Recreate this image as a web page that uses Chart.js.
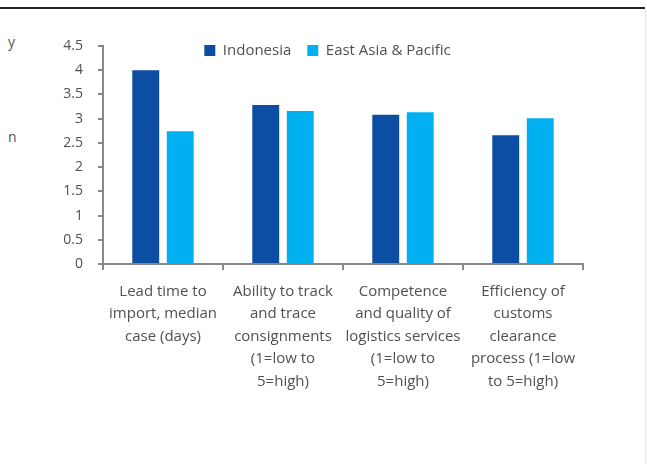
<!DOCTYPE html>
<html>
<head>
<meta charset="utf-8">
<script src="https://cdn.jsdelivr.net/npm/chart.js@4.4.0/dist/chart.umd.min.js"></script>
<style>
  html, body { margin: 0; padding: 0; background: #fff; }
  #wrap { position: relative; width: 647px; height: 464px; overflow: hidden; }
  #topRule { position: absolute; left: 0; top: 7px; width: 645px; height: 2px; background: #222; }
  #rightRule { position: absolute; left: 645px; top: 9px; width: 1px; height: 455px; background: #dfe8ee; }
  .frag { position: absolute; font-family: "Open Sans", sans-serif; font-size: 14px; color: #555; }
  canvas { position: absolute; left: 0; top: 0; }
</style>
</head>
<body>
<div id="wrap">
  <div id="topRule"></div>
  <div id="rightRule"></div>
  <span class="frag" style="left:8px; top:32px;">y</span>
  <span class="frag" style="left:8px; top:127px;">n</span>
  <canvas id="chart" width="647" height="464"></canvas>
</div>
<script>
// categories (multi-line labels as shown under the axis)
const categories = [
    ['Lead time to', 'import, median', 'case (days)'],
    ['Ability to track', 'and trace', 'consignments', '(1=low to', '5=high)'],
    ['Competence', 'and quality of', 'logistics services', '(1=low to', '5=high)'],
    ['Efficiency of', 'customs', 'clearance', 'process (1=low', 'to 5=high)'],
];
const indonesia = [4.0, 3.28, 3.08, 2.66];
const eastAsiaPacific = [2.74, 3.16, 3.13, 3.01];
const yMin = 0;
const yMax = 4.5;
const yStep = 0.5;

const axisGrey = '#888888';
const textGrey = '#505050';

// the legend sits inside the plot in the original, so push it down after layout
const legendNudge = {
    id: 'legendNudge',
    afterLayout(chart) {
        const lg = chart.legend;
        if (!lg) return;
        const dx = 36, dy = 22;
        lg.left += dx;
        lg.right += dx;
        lg.top += dy;
        lg.bottom += dy;
    }
};

const ctx = document.getElementById('chart').getContext('2d');
new Chart(ctx, {
    type: 'bar',
    data: {
        labels: categories,
        datasets: [{
            label: 'Indonesia',
            data: indonesia,
            backgroundColor: '#0b4ea2',
            categoryPercentage: 0.575,
            barPercentage: 0.78,
        }, {
            label: 'East Asia & Pacific',
            data: eastAsiaPacific,
            backgroundColor: '#00b0f0',
            categoryPercentage: 0.575,
            barPercentage: 0.78,
        }],
    },
    options: {
        responsive: false,
        animation: false,
        layout: { padding: { top: 5, right: 64, bottom: 0, left: 0 } },
        plugins: {
            legend: {
                position: 'top',
                align: 'center',
                labels: {
                    boxWidth: 11,
                    boxHeight: 11,
                    padding: 16,
                    color: textGrey,
                    font: { family: 'Open Sans', size: 15 },
                },
            },
            tooltip: { enabled: false },
        },
        scales: {
            x: {
                afterFit: (scale) => { scale.height = 200; },
                border: { color: axisGrey, width: 2 },
                grid: {
                    drawOnChartArea: false,
                    drawTicks: true,
                    tickLength: 6,
                    color: axisGrey,
                    lineWidth: 2,
                },
                ticks: {
                    color: textGrey,
                    font: { family: 'Open Sans', size: 15, lineHeight: 1.5 },
                    maxRotation: 0,
                    autoSkip: false,
                    padding: 10,
                },
            },
            y: {
                min: yMin,
                max: yMax,
                afterFit: (scale) => { scale.width = 103; },
                border: { color: axisGrey, width: 2 },
                grid: {
                    drawOnChartArea: false,
                    drawTicks: true,
                    tickLength: 5,
                    color: axisGrey,
                    lineWidth: 2,
                },
                ticks: {
                    stepSize: yStep,
                    color: textGrey,
                    font: { family: 'Open Sans', size: 14 },
                    padding: 15,
                    callback: (v) => v.toString(),
                },
            },
        },
    },
    plugins: [legendNudge],
});
</script>
</body>
</html>
